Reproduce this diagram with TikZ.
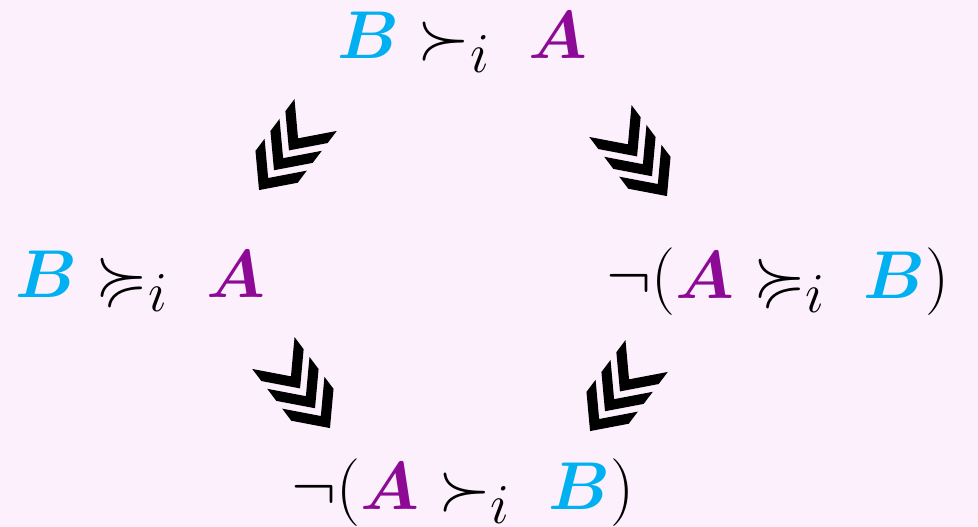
\documentclass[tikz,border=0pt]{standalone}
\usepackage{amsmath,amssymb,bm}
\definecolor{bgpink}{RGB}{251,240,251}
\definecolor{bcyan}{RGB}{0,176,240}
\definecolor{apurple}{RGB}{140,10,150}
\newcommand{\Bv}{\textcolor{bcyan}{\bm{B}}}
\newcommand{\Av}{\textcolor{apurple}{\bm{A}}}
\begin{document}
\begin{tikzpicture}[x=1pt,y=1pt,
  formula/.style={inner sep=0pt, anchor=base, scale=2.72, font=\fontsize{24.88}{30}\selectfont},
  chev/.pic={\foreach \s in {43,20,-3}{\fill[black] (\s,0) -- ++(-27,24.5) -- ++(-14,0) -- ++(27,-24.5) -- ++(-27,-24.5) -- ++(14,0) -- cycle;}}]
\fill[bgpink] (0,0) rectangle (978,527);
\useasboundingbox (0,0) rectangle (978,527);
\node[formula] (top) at (462,468) {$\Bv \succ_i \; \Av$};
\node[formula] (left) at (140,229) {$\Bv \succcurlyeq_i \; \Av$};
\node[formula] (right) at (778,228) {$\neg(\Av \succcurlyeq_i \; \Bv)$};
\node[formula] (bottom) at (463,17) {$\neg(\Av \succ_i \; \Bv)$};
\pic[rotate=233,scale=1.08] at (287,374) {chev};
\pic[rotate=307,scale=1.08] at (639,368) {chev};
\pic[rotate=307,scale=1.08] at (302,136) {chev};
\pic[rotate=233,scale=1.08] at (618,133) {chev};
\end{tikzpicture}
\end{document}
